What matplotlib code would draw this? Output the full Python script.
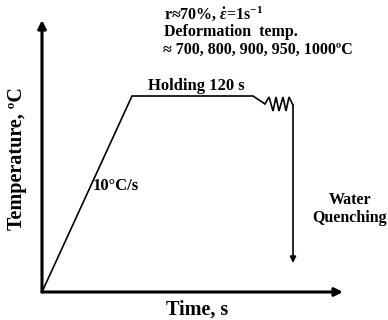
import matplotlib
matplotlib.use("Agg")
import matplotlib.pyplot as plt

plt.rcParams['font.family'] = ['Liberation Serif', 'DejaVu Serif']
plt.rcParams['font.weight'] = 'bold'
plt.rcParams['mathtext.fontset'] = 'custom'
plt.rcParams['mathtext.rm'] = 'Liberation Serif:bold'
plt.rcParams['mathtext.it'] = 'Liberation Serif:italic:bold'
plt.rcParams['mathtext.bf'] = 'Liberation Serif:bold'

# Schematic thermal profile (arbitrary units)
time = [0, 90, 211, 223, 227, 231, 234, 237, 241, 244, 247, 251]
temp = [0, 196, 196, 188, 195, 181, 195, 181, 195, 181, 195, 187]
quench_time = [251, 251]
quench_temp = [187, 29]
axis_x_end = 301
axis_y_end = 272

W, H = 388, 320
fig = plt.figure(figsize=(W / 100, H / 100), dpi=100)
ox, oy = 42, 292
ax = fig.add_axes([ox / W, (H - oy) / H, (W - ox) / W, oy / H])
ax.set_xlim(0, W - ox)
ax.set_ylim(0, oy)
ax.axis('off')

arrow_kw = dict(arrowstyle='-|>', color='black', lw=2.2, mutation_scale=12,
                shrinkA=0, shrinkB=0)
ax.annotate('', xy=(0, axis_y_end), xytext=(0, 0), arrowprops=arrow_kw, annotation_clip=False)
ax.annotate('', xy=(axis_x_end, 0), xytext=(0, 0), arrowprops=arrow_kw, annotation_clip=False)

ax.plot(time, temp, color='black', lw=1.2, clip_on=False, solid_joinstyle='miter')
ax.annotate('', xy=(quench_time[1], quench_temp[1]), xytext=(quench_time[0], quench_temp[0]),
            arrowprops=dict(arrowstyle='-|>', color='black', lw=1.2, mutation_scale=9,
                            shrinkA=0, shrinkB=0), annotation_clip=False)

def ft(x, y, s, **kw):
    fig.text(x / W, 1 - y / H, s, **kw)

ft(164, 14, r'r≈70%, $\dot{\varepsilon}$=1s$^{-1}$', fontsize=11.5, va='center', ha='left')
ft(164, 32, 'Deformation  temp.', fontsize=11.5, va='center', ha='left')
ft(163, 50, '≈ 700, 800, 900, 950, 1000ºC', fontsize=11.5, va='center', ha='left')
ft(148, 86, 'Holding 120 s', fontsize=12, va='center', ha='left')
ft(93, 186, '10°C/s', fontsize=12, va='center', ha='left')
ft(350, 200, 'Water', fontsize=11.5, va='center', ha='center')
ft(350, 218, 'Quenching', fontsize=11.5, va='center', ha='center')
ft(197, 310, 'Time, s', fontsize=14.5, va='center', ha='center')
ft(17, 158, 'Temperature, ºC', fontsize=14.5, va='center', ha='center', rotation=90)

fig.savefig('out.png', dpi=100)
